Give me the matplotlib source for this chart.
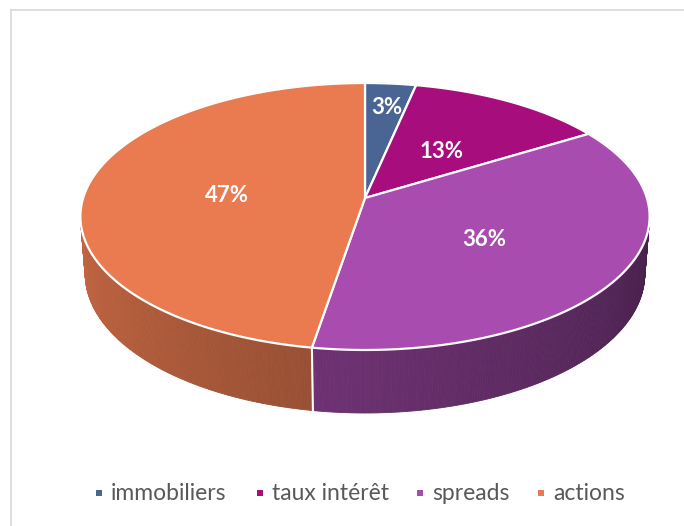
import numpy as np
import matplotlib
matplotlib.use('Agg')
import matplotlib.pyplot as plt
from matplotlib.patches import Polygon, Rectangle
from matplotlib.colors import to_rgb

# ---- data ----
categories = ['immobiliers', 'taux intérêt', 'spreads', 'actions']
values = [3.3, 12.9, 36.4, 47.4]
labels = ['3%', '13%', '36%', '47%']
colors = ['#4A6593', '#A80D7D', '#A84CB0', '#EA7A4F']

# ---- layout ----
W, H = 684, 526
label_pos = [(387, 107), (442, 151), (484, 239), (227, 195)]
legend_marker_x = [99, 260, 420, 541]
legend_y = 493

fig = plt.figure(figsize=(W / 100, H / 100), dpi=100)
ax = fig.add_axes([0, 0, 1, 1])
ax.set_xlim(0, W)
ax.set_ylim(H, 0)
ax.axis('off')

# perspective projection of a cylinder
CX, CY = 365, 198
F, D = 1801.0, 6.39
s = 0.4645
c = np.sqrt(1 - s * s)
h = 0.232


def proj(X, Y, Z):
    yc = Y * s + Z * c
    zc = D + Y * c - Z * s
    return CX + F * X / zc, CY - F * yc / zc


def shade(theta):
    f = 0.42 + (theta - 100) * 0.42 / 160
    return min(max(f, 0.35), 0.9)


total = sum(values)
bounds = np.concatenate([[0], np.cumsum(values)]) / total * 360.0

# walls
quads = []
for i, col in enumerate(colors):
    a0, a1 = bounds[i], bounds[i + 1]
    n = max(int((a1 - a0) / 0.5), 2)
    th = np.linspace(a0, a1, n + 1)
    base = np.array(to_rgb(col))
    for j in range(n):
        t0, t1 = np.radians(th[j]), np.radians(th[j + 1])
        tm = 0.5 * (th[j] + th[j + 1])
        pts = [proj(np.sin(t0), np.cos(t0), 0), proj(np.sin(t1), np.cos(t1), 0),
               proj(np.sin(t1), np.cos(t1), -h), proj(np.sin(t0), np.cos(t0), -h)]
        depth = np.cos(np.radians(tm))
        fc = np.clip(base * shade(tm % 360), 0, 1)
        quads.append((depth, pts, fc))
quads.sort(key=lambda q: -q[0])
for depth, pts, fc in quads:
    ax.add_patch(Polygon(pts, closed=True, facecolor=fc, edgecolor=fc, lw=0.6, zorder=1))

# white separators on visible walls
for b in bounds:
    t = np.radians(b)
    if np.cos(t) < -0.05:
        p0 = proj(np.sin(t), np.cos(t), 0)
        p1 = proj(np.sin(t), np.cos(t), -h)
        ax.plot([p0[0], p1[0]], [p0[1], p1[1]], color='white', lw=1.5, zorder=2)

# top faces
for i, col in enumerate(colors):
    th = np.radians(np.linspace(bounds[i], bounds[i + 1], 200))
    pts = [proj(0, 0, 0)] + [proj(np.sin(t), np.cos(t), 0) for t in th]
    ax.add_patch(Polygon(pts, closed=True, facecolor=col, edgecolor='white',
                         lw=1.6, joinstyle='round', zorder=3))

for (x, y), lab in zip(label_pos, labels):
    ax.text(x, y, lab, color='white', fontsize=16, fontweight='bold',
            family='Lato', ha='center', va='center', zorder=5)

# legend
for mx, col, cat in zip(legend_marker_x, colors, categories):
    ax.add_patch(Rectangle((mx - 3, legend_y - 3), 6, 6, facecolor=col,
                           edgecolor='none', zorder=5))
    ax.text(mx + 12, legend_y, cat, color='#595959', fontsize=16.5,
            family='Lato', ha='left', va='center', zorder=5)

# chart border (top and left)
ax.plot([11, W], [10, 10], color='#D9D9D9', lw=1.2, zorder=0)
ax.plot([11, 11], [10, H], color='#D9D9D9', lw=1.2, zorder=0)

fig.savefig('out.png', dpi=100)
